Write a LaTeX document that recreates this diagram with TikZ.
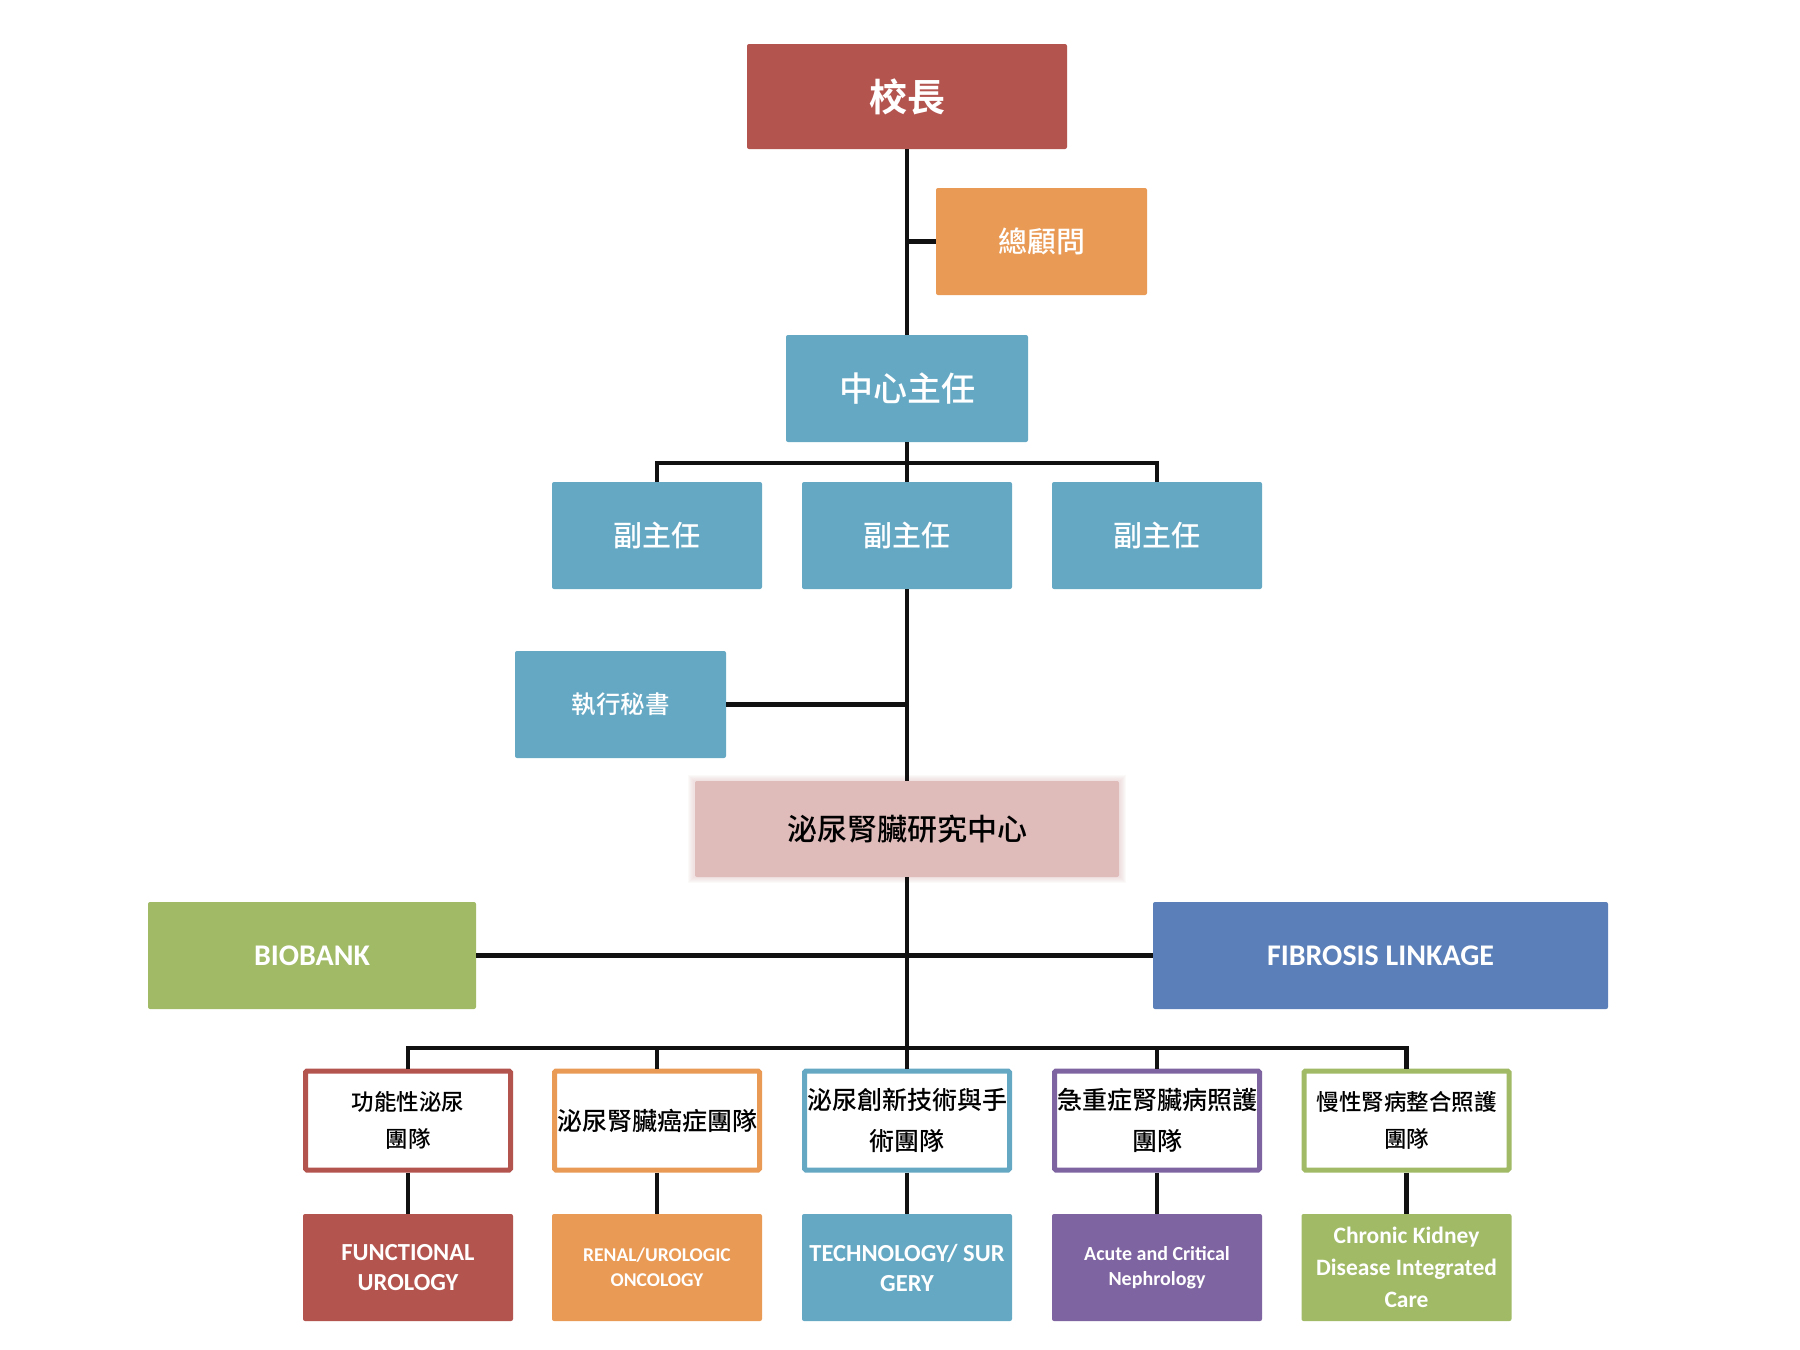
\documentclass[tikz,border=0pt]{standalone}
\usepackage{fontspec}
\setmainfont{Noto Sans CJK TC}[UprightFont={* Medium}, BoldFont={* Bold}]
\newfontfamily\en{Carlito}
\definecolor{cred}{HTML}{B4544F}
\definecolor{corange}{HTML}{E99A55}
\definecolor{cblue}{HTML}{64A8C4}
\definecolor{cpink}{HTML}{DFBBBA}
\definecolor{cgreen}{HTML}{A1BA66}
\definecolor{cblue2}{HTML}{5B7FB8}
\definecolor{cpurple}{HTML}{7E64A0}
\definecolor{cline}{HTML}{111111}
\tikzset{
  box/.style={rectangle, rounded corners=2pt, inner sep=0pt, align=center, text=white},
  cbox/.style={box, minimum width=210, minimum height=107},
  team/.style={rectangle, rounded corners=1.5pt, inner sep=0pt, align=center, text=black,
    fill=white, line width=5pt, minimum width=205, minimum height=99},
  tfontA/.style={font=\fontsize{22.5}{37}\selectfont},
  tfontB/.style={font=\fontsize{25}{41}\selectfont},
  eng/.style={cbox},
  conn/.style={line width=4.5pt, cline}
}
\begin{document}
\begin{tikzpicture}[x=1pt,y=-1pt]
\fill[white] (0,0) rectangle (1800,1350);
\useasboundingbox (0,0) rectangle (1800,1350);

% top hierarchy
\node[box, fill=cred, minimum width=320, minimum height=105,
  font=\fontsize{38}{40}\selectfont\bfseries] (pres) at (907,96.5) {校長};
\node[box, fill=corange, minimum width=211, minimum height=107,
  font=\fontsize{29}{32}\selectfont] (adv) at (1041.5,241.5) {總顧問};
\node[box, fill=cblue, minimum width=242, minimum height=107,
  font=\fontsize{34}{36}\selectfont] (dir) at (907,388.5) {中心主任};
\node[cbox, fill=cblue, font=\fontsize{29}{32}\selectfont] (v1) at (657,535.5) {副主任};
\node[cbox, fill=cblue, font=\fontsize{29}{32}\selectfont] (v2) at (907,535.5) {副主任};
\node[cbox, fill=cblue, font=\fontsize{29}{32}\selectfont] (v3) at (1157,535.5) {副主任};
\node[box, fill=cblue, minimum width=211, minimum height=107,
  font=\fontsize{24.5}{27}\selectfont] (sec) at (620.5,704.5) {執行秘書};

% research centre with soft edge
\foreach \i in {1,...,6}
  \fill[cpink, opacity=0.08] (694-\i,781-\i) rectangle (1120+\i,877+\i);
\node[box, fill=cpink, text=black, minimum width=424, minimum height=96,
  font=\fontsize{30}{32}\selectfont] (ctr) at (907,829) {泌尿腎臟研究中心};

\node[box, fill=cgreen, minimum width=328, minimum height=107,
  font=\en\bfseries\fontsize{30}{32}\selectfont] (bio) at (312,955.5) {BIOBANK};
\node[box, fill=cblue2, minimum width=455, minimum height=107,
  font=\en\bfseries\fontsize{30}{32}\selectfont] (fib) at (1380.5,955.5) {FIBROSIS LINKAGE};

% teams
\node[team, draw=cred, tfontA] (t1) at (408,1120.5) {功能性泌尿\\團隊};
\node[team, draw=corange, tfontB] (t2) at (657,1120.5) {泌尿腎臟癌症團隊};
\node[team, draw=cblue, tfontB] (t3) at (907,1120.5) {泌尿創新技術與手\\術團隊};
\node[team, draw=cpurple, tfontB] (t4) at (1157,1120.5) {急重症腎臟病照護\\團隊};
\node[team, draw=cgreen, tfontA] (t5) at (1406.5,1120.5) {慢性腎病整合照護\\團隊};

% english boxes
\node[eng, fill=cred, font=\en\bfseries\fontsize{24.5}{30}\selectfont] (e1) at (408,1267.5) {FUNCTIONAL\\UROLOGY};
\node[eng, fill=corange, font=\en\bfseries\fontsize{19.5}{25}\selectfont] (e2) at (657,1267.5) {RENAL/UROLOGIC\\ONCOLOGY};
\node[eng, fill=cblue, font=\en\bfseries\fontsize{24.5}{30}\selectfont] (e3) at (907,1267.5) {TECHNOLOGY/ SUR\\GERY};
\node[eng, fill=cpurple, font=\en\bfseries\fontsize{20}{25}\selectfont] (e4) at (1157,1267.5) {Acute and Critical\\Nephrology};
\node[eng, fill=cgreen, font=\en\bfseries\fontsize{23.5}{32}\selectfont] (e5) at (1406.5,1267.5) {Chronic Kidney\\Disease Integrated\\Care};

% connectors
\coordinate (b1) at (907,463);
\coordinate (b2) at (907,1048);
\draw[conn] (pres.south) -- (dir.north);
\draw[conn] (adv.west) -- (adv.west -| pres.south);
\draw[conn] (dir.south) -- (v2.north);
\draw[conn] (v1.north) |- (b1) -| (v3.north);
\draw[conn] (v2.south) -- (ctr.north);
\draw[conn] (sec.east) -- (sec.east -| v2.south);
\draw[conn] (ctr.south) -- (t3.north);
\draw[conn] (bio.east) -- (fib.west);
\draw[conn] (t1.north) |- (b2) -| (t5.north);
\draw[conn] (t2.north) -- (t2.north |- b2);
\draw[conn] (t4.north) -- (t4.north |- b2);
\draw[conn] (t1.south) -- (e1.north);
\draw[conn] (t2.south) -- (e2.north);
\draw[conn] (t3.south) -- (e3.north);
\draw[conn] (t4.south) -- (e4.north);
\draw[conn] (t5.south) -- (e5.north);
\end{tikzpicture}
\end{document}
